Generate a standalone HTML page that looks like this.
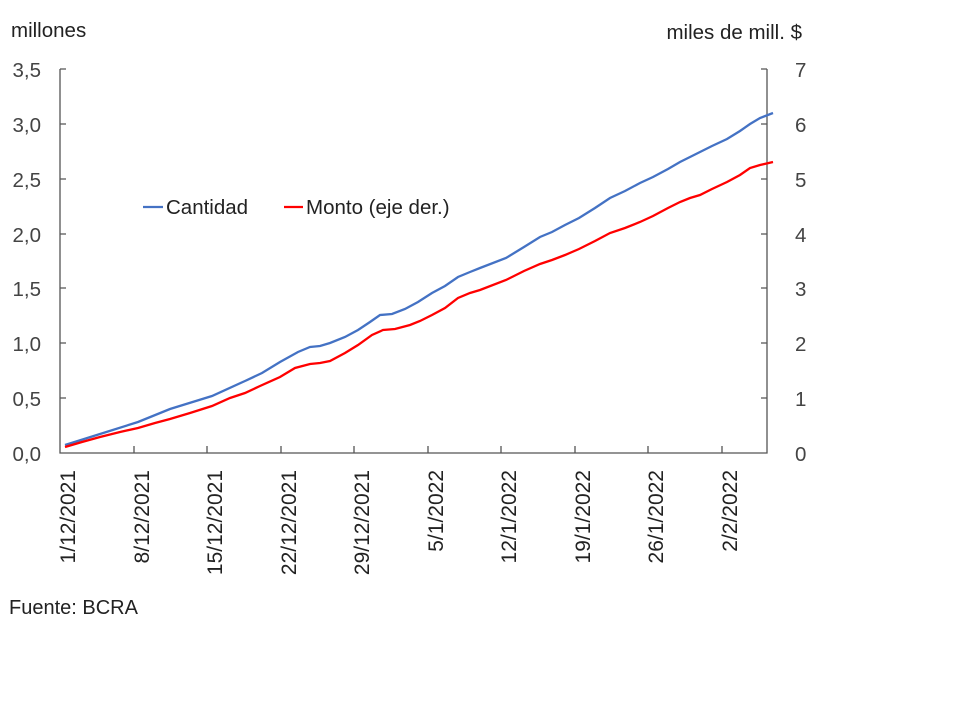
<!DOCTYPE html>
<html><head><meta charset="utf-8"><style>
html,body{margin:0;padding:0;background:#fff;}
svg{display:block;font-family:"Liberation Sans",sans-serif;}
</style></head><body>
<svg width="960" height="720" viewBox="0 0 960 720">
<g fill="#222" font-size="20.5">
<text x="11" y="37">millones</text>
<text x="802" y="39" text-anchor="end">miles de mill. $</text>
</g>
<g stroke="#555" stroke-width="1.3" fill="none">
<path d="M60 69V453H767V69"/>
<path d="M60 69h6M60 124h6M60 179h6M60 234h6M60 288h6M60 343h6M60 398h6"/>
<path d="M767 69h-6M767 124h-6M767 179h-6M767 234h-6M767 288h-6M767 343h-6M767 398h-6"/>
<path d="M134 453v-7M207 453v-7M281 453v-7M354 453v-7M428 453v-7M501 453v-7M575 453v-7M648 453v-7M722 453v-7"/>
</g>
<g fill="#444" font-size="20.5" text-anchor="end">
<text x="41" y="77">3,5</text><text x="41" y="132">3,0</text><text x="41" y="187">2,5</text>
<text x="41" y="242">2,0</text><text x="41" y="296">1,5</text><text x="41" y="351">1,0</text>
<text x="41" y="406">0,5</text><text x="41" y="461">0,0</text>
</g>
<g fill="#444" font-size="20.5">
<text x="795" y="77">7</text><text x="795" y="132">6</text><text x="795" y="187">5</text>
<text x="795" y="242">4</text><text x="795" y="296">3</text><text x="795" y="351">2</text>
<text x="795" y="406">1</text><text x="795" y="461">0</text>
</g>
<g fill="#222" font-size="21" text-anchor="end">
<text transform="translate(75,470) rotate(-90)">1/12/2021</text>
<text transform="translate(149,470) rotate(-90)">8/12/2021</text>
<text transform="translate(222,470) rotate(-90)">15/12/2021</text>
<text transform="translate(296,470) rotate(-90)">22/12/2021</text>
<text transform="translate(369,470) rotate(-90)">29/12/2021</text>
<text transform="translate(443,470) rotate(-90)">5/1/2022</text>
<text transform="translate(516,470) rotate(-90)">12/1/2022</text>
<text transform="translate(590,470) rotate(-90)">19/1/2022</text>
<text transform="translate(663,470) rotate(-90)">26/1/2022</text>
<text transform="translate(737,470) rotate(-90)">2/2/2022</text>
</g>
<polyline fill="none" stroke="#4472C4" stroke-width="2.3" points="65,445 100,434 138,422 170,409 212,396 245,381 262,373 280,362 298,352 310,347 320,346 330,343 345,337 358,330 370,322 380,315 392,314 405,309 418,302 432,293 445,286 458,277 470,272 480,268 506,258 524,247 540,237 552,232 565,225 579,218 595,208 610,198 625,191 640,183 653,177 668,169 680,162 690,157 700,152 712,146 727,139 740,131 750,124 760,118 773,113"/>
<polyline fill="none" stroke="#FF0000" stroke-width="2.3" points="65,447 82,442 100,437 120,432 138,428 155,423 170,419 190,413 212,406 230,398 245,393 260,386 280,377 295,368 310,364 320,363 330,361 345,353 358,345 372,335 383,330 395,329 410,325 420,321 432,315 445,308 458,298 470,293 480,290 506,280 524,271 540,264 552,260 565,255 579,249 595,241 610,233 625,228 640,222 653,216 668,208 680,202 690,198 700,195 712,189 727,182 740,175 750,168 760,165 773,162"/>
<line x1="143" y1="207" x2="163" y2="207" stroke="#4472C4" stroke-width="2.3"/>
<text x="166" y="214" font-size="20.5" fill="#222">Cantidad</text>
<line x1="284" y1="207" x2="303" y2="207" stroke="#FF0000" stroke-width="2.3"/>
<text x="306" y="214" font-size="20.5" fill="#222">Monto (eje der.)</text>
<text x="9" y="614" font-size="20" fill="#222">Fuente: BCRA</text>
</svg>
</body></html>
